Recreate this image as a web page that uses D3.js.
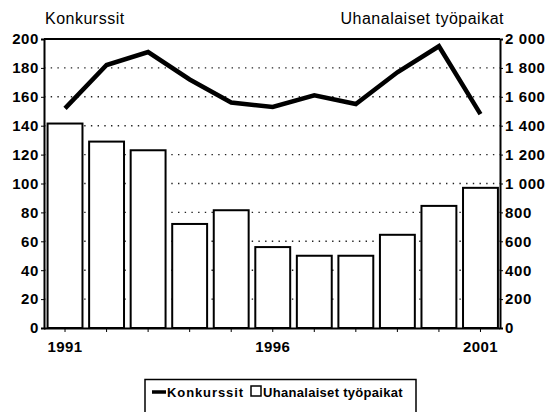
<!DOCTYPE html>
<html><head><meta charset="utf-8">
<script src="https://cdn.jsdelivr.net/npm/d3@7"></script>
<style>
html,body{margin:0;padding:0;background:#fff;}
svg{display:block;font-family:"Liberation Sans",Arial,sans-serif;}
</style></head>
<body>
<svg id="c" width="554" height="412"></svg>
<script>
const years = [1991,1992,1993,1994,1995,1996,1997,1998,1999,2000,2001];
const konkurssit = [152,182,191,172,156,153,161,155,177,195,148];
const tyopaikat = [1415,1290,1230,720,815,560,500,500,645,845,970];
const leftTicks = [0,20,40,60,80,100,120,140,160,180,200];
const rightTicks = [0,200,400,600,800,1000,1200,1400,1600,1800,2000];
const xLabels = [1991,1996,2001];
const leftTitle = "Konkurssit";
const rightTitle = "Uhanalaiset työpaikat";
const legendLabels = ["Konkurssit","Uhanalaiset työpaikat"];

const svg = d3.select("#c");
const L = 44, R = 500, T = 39, B = 328;

const x = d3.scaleBand().domain(years).range([45.5, 500]).paddingInner(0.16).paddingOuter(0.05);
const yL = d3.scaleLinear().domain([0,200]).range([B,T]);
const yR = d3.scaleLinear().domain([0,2000]).range([B,T]);

// gridlines
svg.append("g").selectAll("line").data(leftTicks.filter(d=>d>0 && d<200)).join("line")
  .attr("x1",L).attr("x2",R).attr("y1",d=>yL(d)).attr("y2",d=>yL(d))
  .attr("stroke","#222").attr("stroke-width",1.4).attr("stroke-dasharray","1.4,5.3");

// bars
svg.append("g").selectAll("rect").data(years).join("rect")
  .attr("x",(d)=>x(d)).attr("width",x.bandwidth())
  .attr("y",(d,i)=>yR(tyopaikat[i])).attr("height",(d,i)=>B-yR(tyopaikat[i]))
  .attr("fill","#fff").attr("stroke","#000").attr("stroke-width",2);

// frame
svg.append("line").attr("x1",L).attr("x2",R).attr("y1",T).attr("y2",T).attr("stroke","#000").attr("stroke-width",2);

// left axis
const gL = svg.append("g").attr("transform",`translate(${L},0)`)
  .call(d3.axisLeft(yL).tickValues(leftTicks).tickSize(3).tickPadding(2));
gL.select(".domain").attr("stroke-width",2);
gL.selectAll("text").attr("font-size",15).attr("font-weight","bold").attr("letter-spacing",0.6)
  .attr("fill","#000").attr("font-family","Liberation Sans, Arial, sans-serif");

// right axis
const fmt = d => d3.format(",")(d).replace(/,/g," ");
const gR = svg.append("g").attr("transform",`translate(${R},0)`)
  .call(d3.axisRight(yR).tickValues(rightTicks).tickFormat(fmt).tickSize(3).tickPadding(2));
gR.select(".domain").attr("stroke-width",2);
gR.selectAll("text").attr("font-size",15).attr("font-weight","bold").attr("letter-spacing",0.6)
  .attr("fill","#000").attr("font-family","Liberation Sans, Arial, sans-serif");

// bottom axis
const gB = svg.append("g").attr("transform",`translate(0,${B})`)
  .call(d3.axisBottom(x).tickValues(years).tickSize(4).tickPadding(9)
    .tickFormat(d=>xLabels.includes(d)?d:""));
gB.select(".domain").attr("d",`M${L},0.5H${R}`).attr("stroke-width",2);
gB.selectAll("text").attr("font-size",15).attr("font-weight","bold").attr("letter-spacing",0.4)
  .attr("fill","#000").attr("font-family","Liberation Sans, Arial, sans-serif");

// line
const line = d3.line().x((d,i)=>x(years[i])+x.bandwidth()/2).y(d=>yL(d));
svg.append("path").datum(konkurssit).attr("d",line)
  .attr("fill","none").attr("stroke","#000").attr("stroke-width",4.5).attr("stroke-linejoin","miter");

// titles
svg.append("text").attr("x",45).attr("y",24).text(leftTitle)
  .attr("font-size",16).attr("letter-spacing",0.5).attr("fill","#000");
svg.append("text").attr("x",504).attr("y",24).attr("text-anchor","end").text(rightTitle)
  .attr("font-size",16).attr("letter-spacing",0.5).attr("fill","#000");

// legend
const lg = svg.append("g");
lg.append("path").attr("d","M145,413V379.5H416V413").attr("fill","none").attr("stroke","#000").attr("stroke-width",1.5);
lg.append("line").attr("x1",152).attr("x2",166).attr("y1",392).attr("y2",392).attr("stroke","#000").attr("stroke-width",3.5);
lg.append("text").attr("x",167).attr("y",397).text(legendLabels[0])
  .attr("font-size",13).attr("font-weight","bold").attr("letter-spacing",0.9).attr("fill","#000");
lg.append("rect").attr("x",251).attr("y",386).attr("width",10).attr("height",10)
  .attr("fill","#fff").attr("stroke","#000").attr("stroke-width",1.5);
lg.append("text").attr("x",263).attr("y",397).text(legendLabels[1])
  .attr("font-size",13).attr("font-weight","bold").attr("letter-spacing",0.3).attr("fill","#000");
</script>
</body></html>
